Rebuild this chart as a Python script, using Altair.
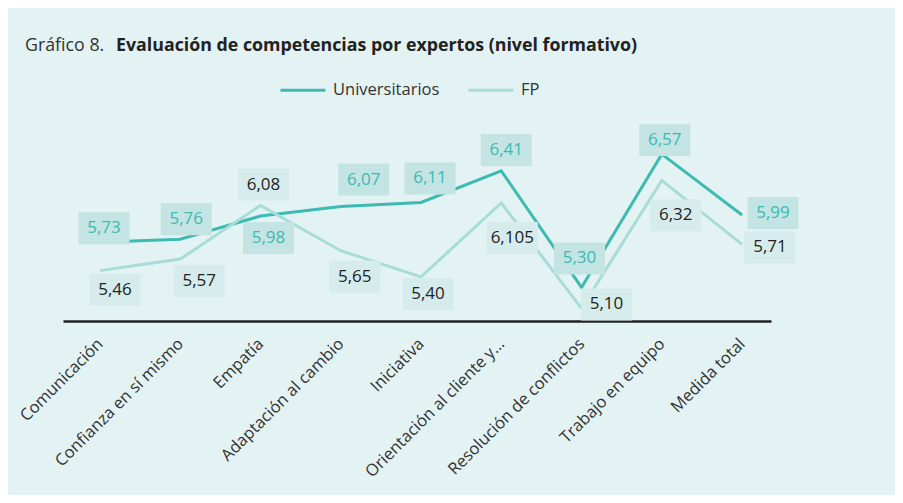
import json
import altair as alt
import pandas as pd

categories = [
    "Comunicación",
    "Confianza en sí mismo",
    "Empatía",
    "Adaptación al cambio",
    "Iniciativa",
    "Orientación al cliente y…",
    "Resolución de conflictos",
    "Trabajo en equipo",
    "Medida total",
]
universitarios = [5.73, 5.76, 5.98, 6.07, 6.11, 6.41, 5.30, 6.57, 5.99]
fp = [5.46, 5.57, 6.08, 5.65, 5.40, 6.105, 5.10, 6.32, 5.71]
series = ["Universitarios", "FP"]

# data-label placement (pixel offsets from each point)
univ_label_dx = [4, 6, 8, 23, 9, 5, -2, 3, 31]
univ_label_dy = [-14, -20, 22, -27, -24, -21, -29, -14, -2]
fp_label_dx = [15, 19, 3, 14, 7, 11, 25, 14, 28]
fp_label_dy = [19, 22, -21, 26, 17, 35, -4, 35, 3]

FONT = "Open Sans"
C_UNIV = "#3dbab2"
C_FP = "#a8dcd6"
BG = "#e3f2f2"

W, H = 708, 212
X_DOMAIN = [-0.461, 8.361]
Y_DOMAIN = [4.98, 7.0]
PX_X = W / (X_DOMAIN[1] - X_DOMAIN[0])
PX_Y = H / (Y_DOMAIN[1] - Y_DOMAIN[0])


def fmt(v):
    s = f"{v:.2f}" if round(v, 2) == v else f"{v}"
    return s.replace(".", ",")


rows = []
for s, vals, dxs, dys in [
    (series[0], universitarios, univ_label_dx, univ_label_dy),
    (series[1], fp, fp_label_dx, fp_label_dy),
]:
    for i, (c, v, dx, dy) in enumerate(zip(categories, vals, dxs, dys)):
        rows.append({"idx": i, "cat": c, "value": v, "serie": s, "label": fmt(v), "dx": dx, "dy": dy})
df = pd.DataFrame(rows)

x_scale = alt.Scale(domain=X_DOMAIN, nice=False, zero=False)
y_scale = alt.Scale(domain=Y_DOMAIN, zero=False, nice=False)

x_axis = alt.Axis(
    title=None,
    values=list(range(len(categories))),
    labelExpr=json.dumps(categories, ensure_ascii=False) + "[datum.value]",
    labelAngle=-45,
    labelAlign="right",
    labelBaseline="middle",
    labelFont=FONT,
    labelFontSize=16.5,
    labelColor="#333333",
    labelPadding=20,
    ticks=False,
    domainColor="#222222",
    domainWidth=2.6,
    labelLimit=300,
    grid=False,
    labelOverlap=False,
)

base = alt.Chart(df)

lines = base.mark_line(strokeWidth=3, strokeJoin="miter").encode(
    x=alt.X("idx:Q", scale=x_scale, axis=x_axis),
    y=alt.Y("value:Q", scale=y_scale, axis=None),
    color=alt.Color(
        "serie:N",
        sort=series,
        scale=alt.Scale(domain=series, range=[C_UNIV, C_FP]),
        legend=alt.Legend(
            title=None,
            orient="none",
            legendX=216,
            legendY=-43,
            direction="horizontal",
            symbolType="stroke",
            symbolSize=2025,
            symbolStrokeWidth=3,
            labelFont=FONT,
            labelFontSize=16.5,
            labelColor="#333333",
            columnPadding=22,
            labelOffset=6,
        ),
    ),
)

box_path = "M-1,-0.627L1,-0.627L1,0.627L-1,0.627Z"


def label_layers(s, box_color, text_color):
    d = base.transform_filter(alt.datum.serie == s).transform_calculate(
        lx=f"datum.idx + datum.dx / {PX_X}",
        ly=f"datum.value - datum.dy / {PX_Y}",
    )
    enc = dict(
        x=alt.X("lx:Q", scale=x_scale, axis=x_axis),
        y=alt.Y("ly:Q", scale=y_scale, axis=None),
    )
    box = d.mark_point(
        shape=box_path, size=2601, filled=True, opacity=1, strokeWidth=0, color=box_color
    ).encode(**enc)
    txt = d.mark_text(
        font=FONT, fontSize=17, color=text_color, baseline="middle", align="center"
    ).encode(text="label:N", **enc)
    return [box, txt]


title_a = alt.Chart(pd.DataFrame({"t": ["Gráfico 8."]})).mark_text(
    font=FONT, fontSize=17.8, color="#333333", align="left", baseline="middle"
).encode(x=alt.value(-38), y=alt.value(-63), text="t:N")
title_b = alt.Chart(
    pd.DataFrame({"t": ["Evaluación de competencias por expertos (nivel formativo)"]})
).mark_text(
    font=FONT, fontSize=17.8, fontWeight="bold", color="#222222", align="left", baseline="middle"
).encode(x=alt.value(53), y=alt.value(-63), text="t:N")

chart = alt.layer(
    lines,
    *label_layers(series[1], "#d6ecec", "#222222"),
    *label_layers(series[0], "#c3e4e2", C_UNIV),
    title_a,
    title_b,
).properties(
    width=W,
    height=H,
    autosize=alt.AutoSizeParams(type="none"),
    padding={"left": 55, "top": 101, "right": 124, "bottom": 174},
    background=BG,
).configure_view(stroke=None)

chart.save("out.html", embed_options={"renderer": "svg", "actions": False})
